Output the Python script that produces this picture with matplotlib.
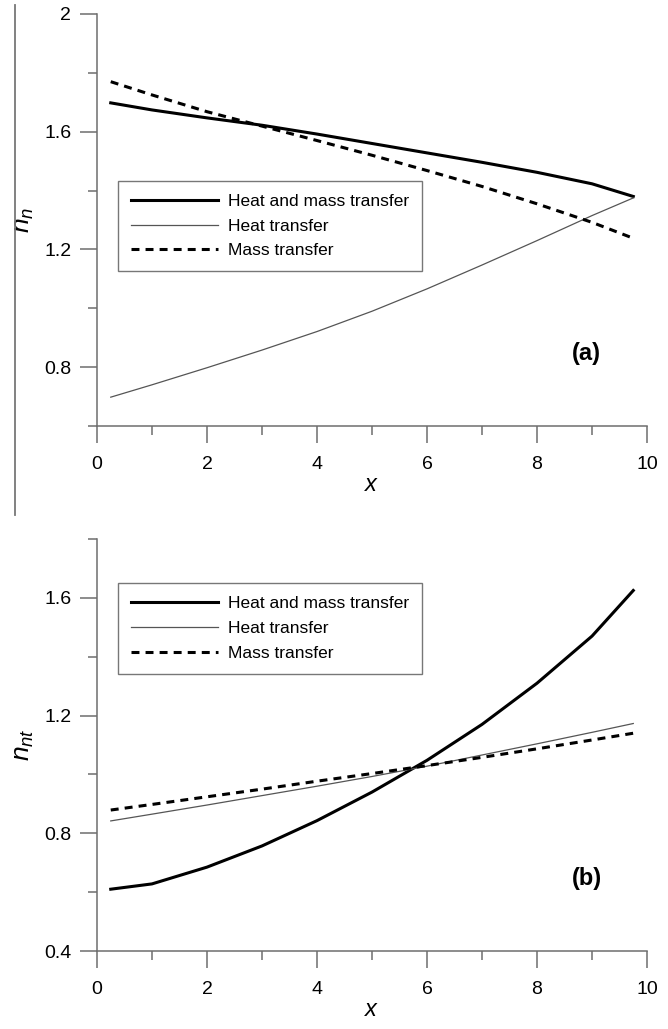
import numpy as np
import matplotlib
matplotlib.use("Agg")
import matplotlib.pyplot as plt
from matplotlib.lines import Line2D
from matplotlib.ticker import MultipleLocator

plt.rcParams['font.family'] = ['Liberation Sans', 'DejaVu Sans']
plt.rcParams['mathtext.fontset'] = 'custom'
plt.rcParams['mathtext.it'] = 'Liberation Sans:italic'
plt.rcParams['mathtext.rm'] = 'Liberation Sans'

# data
x = [0.25, 1, 2, 3, 4, 5, 6, 7, 8, 9, 9.75]

# panel (a): n_n
a_heat_mass = [1.698, 1.674, 1.647, 1.622, 1.592, 1.560, 1.528, 1.496, 1.462, 1.423, 1.380]
a_heat = [0.698, 0.740, 0.798, 0.858, 0.921, 0.990, 1.066, 1.147, 1.230, 1.315, 1.375]
a_mass = [1.770, 1.725, 1.668, 1.619, 1.570, 1.520, 1.468, 1.414, 1.355, 1.292, 1.238]

# panel (b): n_nt
b_heat_mass = [0.610, 0.628, 0.685, 0.757, 0.843, 0.940, 1.048, 1.170, 1.310, 1.470, 1.625]
b_heat = [0.842, 0.865, 0.896, 0.928, 0.960, 0.993, 1.028, 1.066, 1.104, 1.143, 1.173]
b_mass = [0.879, 0.898, 0.924, 0.950, 0.977, 1.003, 1.030, 1.058, 1.087, 1.117, 1.140]

labels = ['Heat and mass transfer', 'Heat transfer', 'Mass transfer']
spine_col = '#6e6e6e'

fig = plt.figure(figsize=(6.68, 10.29), dpi=100)
ax1 = fig.add_axes([0.1452, 0.586, 0.8234, 0.4004])
ax2 = fig.add_axes([0.1452, 0.0758, 0.8234, 0.4004])


def draw(ax, hm, h, m, ylim, ylab, tag, leg_top):
    ax.plot(x, hm, color='black', lw=2.2, label=labels[0])
    ax.plot(x, h, color='#555555', lw=0.9, label=labels[1])
    ax.plot(x, m, color='black', lw=2.2, dashes=(2.6, 2.0), label=labels[2])
    ax.set_xlim(0, 10)
    ax.set_ylim(*ylim)
    ax.xaxis.set_major_locator(MultipleLocator(2))
    ax.xaxis.set_minor_locator(MultipleLocator(1))
    ax.yaxis.set_major_locator(MultipleLocator(0.4))
    ax.yaxis.set_minor_locator(MultipleLocator(0.2))
    ax.xaxis.set_major_formatter(lambda v, p: f'{v:g}')
    ax.yaxis.set_major_formatter(lambda v, p: f'{v:g}')
    for s in ['top', 'right']:
        ax.spines[s].set_visible(False)
    for s in ['left', 'bottom']:
        ax.spines[s].set_color(spine_col)
        ax.spines[s].set_linewidth(1.1)
    ax.tick_params(which='both', direction='out', color=spine_col, width=1.1,
                   labelsize=14)
    ax.tick_params(which='major', length=12.5)
    ax.tick_params(which='minor', length=6.5)
    ax.tick_params(axis='x', which='major', pad=9)
    ax.tick_params(axis='y', which='major', pad=6)
    ax.set_xlabel('$x$', fontsize=17, labelpad=1)
    ax.set_ylabel(ylab, fontsize=19, labelpad=6)
    ax.text(0.89, 0.175, tag, transform=ax.transAxes, fontsize=17,
            fontweight='bold', ha='center', va='center')
    leg = ax.legend(loc='upper left', bbox_to_anchor=(0.038, leg_top),
                    fontsize=12.5, handlelength=5.0, handletextpad=0.6,
                    labelspacing=0.55, borderpad=0.75, fancybox=False,
                    framealpha=1, borderaxespad=0)
    leg.get_frame().set_edgecolor('#777777')
    leg.get_frame().set_linewidth(1.0)


draw(ax1, a_heat_mass, a_heat, a_mass, (0.6, 2.0), '$n_n$', '(a)', 0.595)
draw(ax2, b_heat_mass, b_heat, b_mass, (0.4, 1.8), '$n_{nt}$', '(b)', 0.893)

# vertical rule at left of upper panel
fig.add_artist(Line2D([15 / 668, 15 / 668], [1 - 5 / 1029, 1 - 515 / 1029],
                      color='#777777', lw=1.3))

fig.savefig('out.png', dpi=100)
